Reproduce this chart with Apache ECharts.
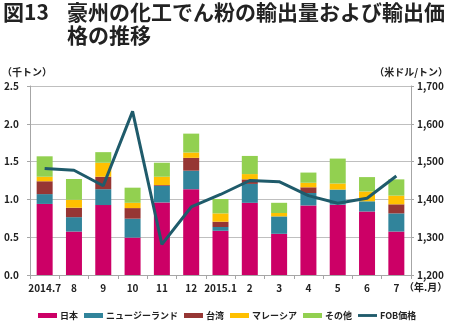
<!DOCTYPE html>
<html><head><meta charset="utf-8">
<script src="https://cdn.jsdelivr.net/npm/echarts@6/dist/echarts.min.js"></script>
<style>html,body{margin:0;padding:0;background:#fff}#c{width:450px;height:322px}</style>
</head><body><div id="c"></div>
<script>
const categories = ['2014.7','8','9','10','11','12','2015.1','2','3','4','5','6','7'];
const japan     = [0.94,0.575,0.925,0.495,0.96,1.135,0.585,0.955,0.545,0.92,0.93,0.84,0.575];
const newZealand= [0.13,0.19,0.21,0.25,0.22,0.245,0.05,0.25,0.23,0.165,0.2,0.135,0.24];
const taiwan    = [0.17,0.125,0.165,0.14,0.01,0.17,0.07,0.06,0.0,0.075,0.0,0.0,0.12];
const malaysia  = [0.06,0.105,0.185,0.07,0.11,0.07,0.11,0.07,0.045,0.06,0.08,0.13,0.115];
const others    = [0.27,0.275,0.14,0.2,0.185,0.25,0.19,0.24,0.135,0.135,0.33,0.19,0.215];
const fobPrice  = [1482,1477,1436,1633,1281,1380,1413,1450,1447,1410,1390,1403,1462];
const leftTicks = {min:0, max:2.5, interval:0.5};
const rightTicks = {min:1200, max:1700, interval:100};
const seriesNames = ['日本','ニュージーランド','台湾','マレーシア','その他','FOB価格'];

const FONT = '"Noto Sans CJK JP", "Noto Sans", sans-serif';
const chart = echarts.init(document.getElementById('c'), null, {renderer:'canvas'});
const colors = ['#CC0066','#31849B','#963634','#FFC000','#92D050'];
const barData = [japan,newZealand,taiwan,malaysia,others];
const series = barData.map((d,i)=>({
  name: seriesNames[i], type:'bar', stack:'vol', data:d, barWidth:16,
  itemStyle:{color:colors[i]}, yAxisIndex:0
}));
series.push({
  name: seriesNames[5], type:'line', data:fobPrice, yAxisIndex:1,
  symbol:'none', lineStyle:{color:'#1F5B6B', width:3}, itemStyle:{color:'#1F5B6B'}, z:5
});
const labelStyle = {color:'#222', fontSize:10, fontWeight:'bold', fontFamily:FONT};
chart.setOption({
  animation:false,
  grid:{left:30, right:39, top:86, bottom:47},
  legend:{
    left:33, top:306, itemWidth:19, itemHeight:5, itemGap:6,
    textStyle:{fontSize:9, fontFamily:FONT, fontWeight:'bold', color:'#222', padding:[0,0,0,-2]},
    data:seriesNames.map((n,i)=> i<5 ? {name:n, icon:'rect'} :
      {name:n, icon:'path://M0,0H20V3H0Z', itemStyle:{color:'#1F5B6B'}})
  },
  xAxis:{
    type:'category', data:categories, boundaryGap:true,
    axisLine:{lineStyle:{color:'#A6A6A6'}},
    axisTick:{show:true, length:4, lineStyle:{color:'#A6A6A6'}},
    axisLabel:Object.assign({margin:8, interval:0}, labelStyle)
  },
  yAxis:[
    {type:'value', min:leftTicks.min, max:leftTicks.max, interval:leftTicks.interval,
     axisLine:{show:true, lineStyle:{color:'#A6A6A6'}},
     axisTick:{show:true, length:3, lineStyle:{color:'#A6A6A6'}},
     splitLine:{lineStyle:{color:'#BFBFBF'}},
     axisLabel:Object.assign({margin:11, formatter:v=>v.toFixed(1)}, labelStyle)},
    {type:'value', min:rightTicks.min, max:rightTicks.max, interval:rightTicks.interval,
     position:'right',
     axisLine:{show:true, lineStyle:{color:'#A6A6A6'}},
     axisTick:{show:true, length:3, lineStyle:{color:'#A6A6A6'}},
     splitLine:{show:false},
     axisLabel:Object.assign({margin:6, formatter:v=>v.toLocaleString('en-US')}, labelStyle)}
  ],
  graphic:[
    {type:'text', left:3, top:2, style:{text:'図13', fontSize:21, fontWeight:'bold', fontFamily:FONT, fill:'#222'}},
    {type:'text', left:67, top:2, style:{text:'豪州の化工でん粉の輸出量および輸出価', fontSize:21, fontWeight:'bold', fontFamily:FONT, fill:'#222'}},
    {type:'text', left:67, top:25, style:{text:'格の推移', fontSize:21, fontWeight:'bold', fontFamily:FONT, fill:'#222'}},
    {type:'text', left:2, top:67, style:{text:'（千トン）', fontSize:10, fontWeight:'bold', fontFamily:FONT, fill:'#222'}},
    {type:'text', right:2, top:67, style:{text:'（米ドル/トン）', fontSize:10, fontWeight:'bold', fontFamily:FONT, fill:'#222'}},
    {type:'text', left:404, top:282, style:{text:'（年.月）', fontSize:10, fontWeight:'bold', fontFamily:FONT, fill:'#222'}}
  ],
  series:series
});
</script></body></html>
